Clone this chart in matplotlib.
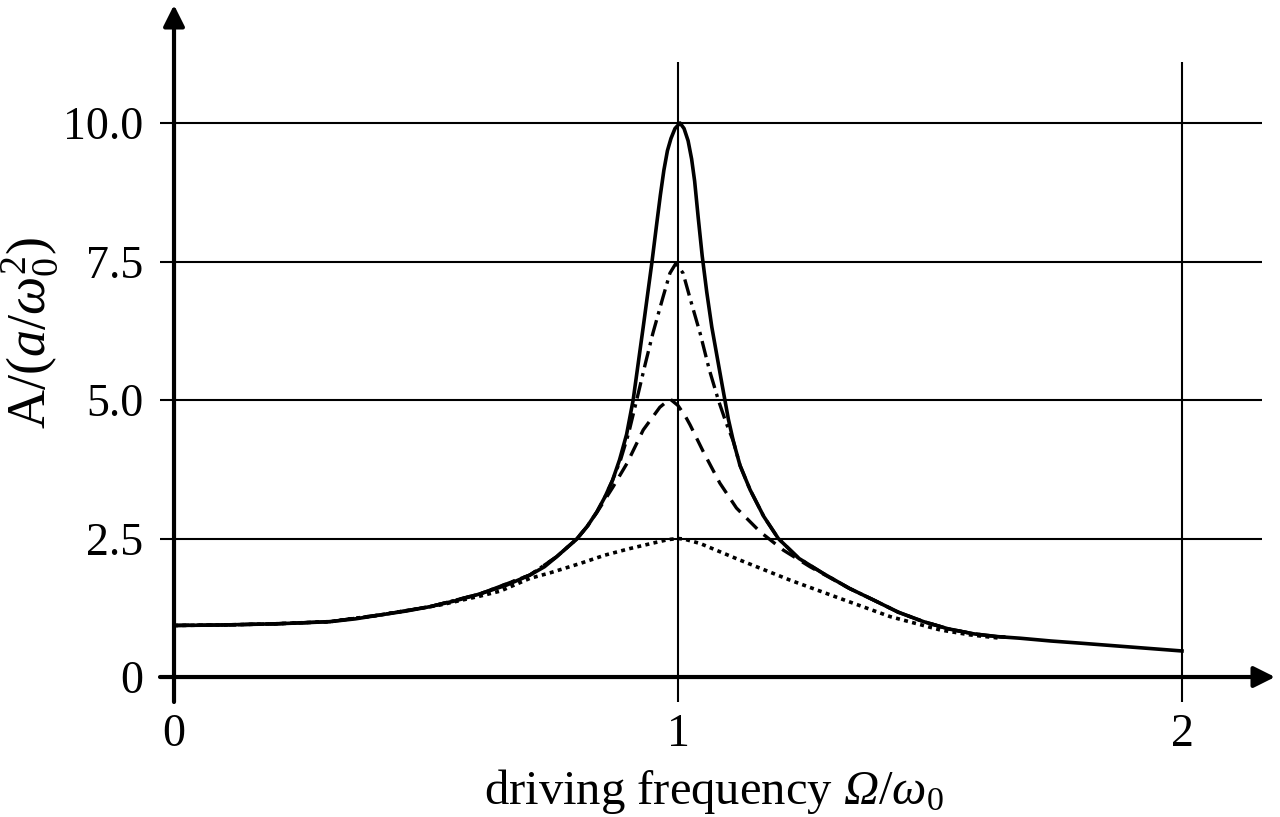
import matplotlib
matplotlib.use('Agg')
import matplotlib.pyplot as plt

plt.rcParams['font.family'] = ['Liberation Serif', 'DejaVu Serif']
plt.rcParams['mathtext.fontset'] = 'custom'
plt.rcParams['mathtext.rm'] = 'Liberation Serif'
plt.rcParams['mathtext.it'] = 'Liberation Serif:italic'
plt.rcParams['mathtext.sf'] = 'Liberation Serif:italic'

# curve data (x = driving frequency / omega_0)
solid_x = [0.0, 0.1, 0.2, 0.26, 0.31, 0.36, 0.409, 0.46, 0.508, 0.56, 0.607, 0.66,
           0.706, 0.735, 0.759, 0.799, 0.82, 0.839, 0.855, 0.870, 0.884, 0.898,
           0.911, 0.931, 0.948, 0.958, 0.965, 0.972, 0.979, 0.986, 0.994, 1.004,
           1.012, 1.020, 1.027, 1.033, 1.040, 1.048, 1.057, 1.067, 1.087, 1.10,
           1.11, 1.123, 1.143, 1.170, 1.199, 1.240, 1.288, 1.340, 1.388, 1.437,
           1.487, 1.536, 1.586, 1.633, 1.679, 1.74, 1.80, 1.90, 2.0]
solid_y = [0.93, 0.94, 0.96, 0.98, 1.00, 1.05, 1.12, 1.19, 1.27, 1.38, 1.50, 1.66,
           1.84, 1.99, 2.17, 2.49, 2.72, 2.98, 3.25, 3.55, 3.92, 4.38,
           5.0, 6.32, 7.47, 8.2, 8.7, 9.15, 9.5, 9.72, 9.9, 10.0,
           9.9, 9.68, 9.35, 8.95, 8.3, 7.6, 6.95, 6.32, 5.3, 4.65,
           4.25, 3.82, 3.38, 2.90, 2.50, 2.14, 1.87, 1.60, 1.39, 1.17,
           1.00, 0.87, 0.78, 0.73, 0.70, 0.65, 0.61, 0.54, 0.47]

dashdot_x = [0.0, 0.1, 0.2, 0.31, 0.409, 0.508, 0.607, 0.706, 0.759, 0.799, 0.82,
             0.839, 0.855, 0.870, 0.886, 0.902, 0.918, 0.935, 0.95, 0.970, 0.984,
             0.996, 1.01, 1.025, 1.044, 1.062, 1.08, 1.095, 1.11, 1.123, 1.143,
             1.170, 1.199, 1.240, 1.288, 1.340, 1.388, 1.437, 1.487, 1.536, 1.586,
             1.633, 1.65]
dashdot_y = [0.93, 0.94, 0.96, 1.00, 1.12, 1.27, 1.50, 1.84, 2.17, 2.49, 2.72,
             2.98, 3.25, 3.55, 3.92, 4.4, 5.0, 5.65, 6.2, 6.85, 7.29,
             7.47, 7.29, 6.8, 6.2, 5.55, 5.0, 4.6, 4.25, 3.82, 3.38,
             2.90, 2.50, 2.14, 1.87, 1.60, 1.39, 1.17, 1.00, 0.87, 0.78,
             0.73, 0.72]

dashed_x = [0.0, 0.1, 0.2, 0.31, 0.409, 0.508, 0.607, 0.706, 0.759, 0.799, 0.82,
            0.839, 0.855, 0.871, 0.899, 0.931, 0.964, 0.984, 1.0, 1.015, 1.024,
            1.050, 1.083, 1.116, 1.163, 1.209, 1.262, 1.302, 1.340, 1.388, 1.437,
            1.487, 1.536, 1.586, 1.633, 1.65]
dashed_y = [0.93, 0.94, 0.96, 1.00, 1.12, 1.27, 1.50, 1.84, 2.17, 2.49, 2.72,
            2.97, 3.2, 3.43, 3.86, 4.46, 4.87, 5.02, 4.9, 4.7, 4.55,
            4.07, 3.50, 3.05, 2.62, 2.29, 1.99, 1.79, 1.60, 1.39, 1.17,
            1.00, 0.87, 0.78, 0.73, 0.72]

dotted_x = [0.0, 0.1, 0.2, 0.31, 0.409, 0.508, 0.528, 0.607, 0.647, 0.706, 0.746,
            0.806, 0.855, 0.905, 0.961, 0.98, 1.0, 1.012, 1.024, 1.044, 1.123,
            1.222, 1.321, 1.421, 1.520, 1.58, 1.64]
dotted_y = [0.93, 0.94, 0.96, 1.00, 1.12, 1.27, 1.30, 1.46, 1.55, 1.78, 1.88,
            2.05, 2.20, 2.32, 2.44, 2.48, 2.50, 2.49, 2.46, 2.41, 2.11,
            1.75, 1.42, 1.09, 0.85, 0.76, 0.70]

ytick_vals = [0, 2.5, 5.0, 7.5, 10.0]
ytick_labels = ['0', '2.5', '5.0', '7.5', '10.0']
xtick_vals = [0, 1, 2]
xtick_labels = ['0', '1', '2']

W, H = 1280, 817
fig = plt.figure(figsize=(12.8, 8.17), dpi=100)
# axes box in pixel terms: x 160..1275, y 5..702
ax = fig.add_axes([160 / W, 1 - 702 / H, (1275 - 160) / W, (702 - 5) / H])
x0, x1 = -0.0278, 2.1845
y0, y1 = -0.451, 12.13
ax.set_xlim(x0, x1)
ax.set_ylim(y0, y1)
for s in ax.spines.values():
    s.set_visible(False)

# grid lines (they also form the tick marks)
ax.hlines([2.5, 5.0, 7.5, 10.0], x0, 2.159, color='k', lw=1.5)
ax.vlines([1, 2], y0, 11.1, color='k', lw=1.5)

# axes with arrow heads
arrow = dict(arrowstyle='-|>', color='k', lw=3, mutation_scale=32,
             shrinkA=0, shrinkB=0)
ax.annotate('', xy=(x1, 0), xytext=(x0, 0), arrowprops=arrow)
ax.annotate('', xy=(0, y1), xytext=(0, y0), arrowprops=arrow)

ax.plot(dotted_x, dotted_y, color='k', lw=2.6, linestyle=(0, (1.1, 1.2)))
ax.plot(dashed_x, dashed_y, color='k', lw=2.4, linestyle=(0, (4.5, 2.6)))
ax.plot(dashdot_x, dashdot_y, color='k', lw=2.4, linestyle=(0, (5.0, 1.8, 1.0, 1.8)))
ax.plot(solid_x, solid_y, color='k', lw=2.6, solid_joinstyle='round')

ax.set_xticks(xtick_vals)
ax.set_xticklabels(xtick_labels)
ax.set_yticks(ytick_vals)
ax.set_yticklabels(ytick_labels)
ax.tick_params(axis='y', length=0, pad=12, labelsize=33)
ax.tick_params(axis='x', length=0, pad=8, labelsize=33)

fig.text(714 / W, 1 - 792 / H, r'driving frequency $\mathsf{Ω}/\omega_0$',
         ha='center', va='center', fontsize=35)
fig.text(30 / W, 1 - 333 / H, r'$\mathrm{A}/(a/\omega_0^2)$',
         ha='center', va='center', rotation=90, fontsize=39)

fig.savefig('out.png', dpi=100)
